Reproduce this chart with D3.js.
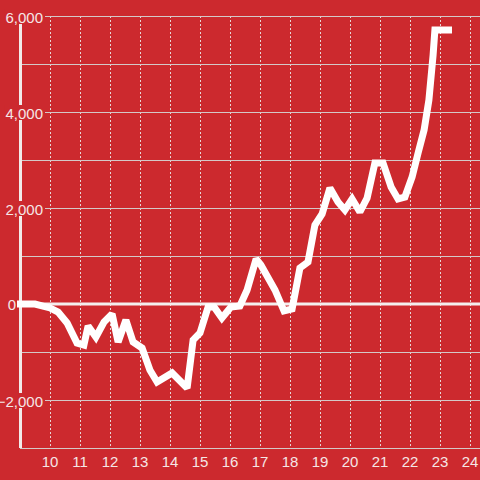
<!DOCTYPE html>
<html><head><meta charset="utf-8">
<script src="https://cdn.jsdelivr.net/npm/d3@7"></script>
<style>html,body{margin:0;padding:0;background:#cc292e;}svg{display:block;}</style>
</head><body>
<svg id="c" width="480" height="480"></svg>
<script>
const xVals = [8.9,9.5,10.0,10.27,10.57,10.9,11.13,11.27,11.53,11.8,12.07,12.27,12.53,12.77,13.07,13.33,13.57,14.07,14.57,14.77,15.0,15.27,15.47,15.73,16.03,16.33,16.57,16.87,17.03,17.5,17.8,18.07,18.33,18.6,18.83,19.07,19.33,19.6,19.83,20.07,20.33,20.57,20.83,21.1,21.37,21.6,21.83,22.07,22.27,22.47,22.63,22.77,22.83,23.4];
const yVals = [0,0,-83,-167,-396,-813,-854,-458,-688,-375,-208,-792,-333,-792,-917,-1375,-1625,-1438,-1750,-750,-604,-63,-63,-292,-63,-42,292,938,813,292,-146,-104,750,875,1646,1875,2417,2125,1958,2188,1917,2208,2938,2938,2438,2188,2229,2646,3146,3625,4250,5188,5708,5708];
const xTicks = [10,11,12,13,14,15,16,17,18,19,20,21,22,23,24];
const yGrid = [-3000,-2000,-1000,0,1000,2000,3000,4000,5000,6000];
const yLabels = [-2000,0,2000,4000,6000];

const bg = "#cc292e", txt = "#f5e6e6";
const svg = d3.select("#c");
const x = d3.scaleLinear().domain([9,24]).range([20,470]);
const y = d3.scaleLinear().domain([-3000,6000]).range([448,16]);
const fmt = d3.format(",");
const font = "'Liberation Sans', Arial, sans-serif";

svg.append("rect").attr("width",480).attr("height",480).attr("fill",bg);

// vertical dotted grid
svg.append("g").selectAll("line").data(xTicks).join("line")
  .attr("x1",d=>x(d)+0.5).attr("x2",d=>x(d)+0.5)
  .attr("y1",y(6000)).attr("y2",y(-3000))
  .attr("stroke","#e6d6d6").attr("stroke-width",1).attr("stroke-dasharray","2,2");

// horizontal grid
svg.append("g").selectAll("line").data(yGrid.filter(d=>d!==0)).join("line")
  .attr("x1",20).attr("x2",480)
  .attr("y1",d=>y(d)+0.5).attr("y2",d=>y(d)+0.5)
  .attr("stroke","#d4c8c8").attr("stroke-width",1);

// y axis line
svg.append("line").attr("x1",20.5).attr("x2",20.5).attr("y1",y(6000)).attr("y2",y(-3000))
  .attr("stroke","#f2eaea").attr("stroke-width",3);

// zero line
svg.append("line").attr("x1",17).attr("x2",480).attr("y1",y(0)).attr("y2",y(0))
  .attr("stroke","#f4eeee").attr("stroke-width",3);

// y labels with background
const yl = svg.append("g").selectAll("g").data(yLabels).join("g");
yl.each(function(d){
  const g = d3.select(this);
  const zero = d === 0;
  const t = g.append("text").attr("x", zero ? 16 : 43).attr("y",y(d)+(zero?6:6.5))
    .attr("text-anchor","end").attr("fill",txt)
    .attr("font-family",font).attr("font-size",15)
    .text(fmt(d));
  if (!zero) {
    const bb = t.node().getBBox();
    g.insert("rect","text").attr("x",bb.x-1).attr("y",y(d)-7).attr("width",46-bb.x).attr("height",15).attr("fill",bg);
  }
});

// x labels
svg.append("g").selectAll("text").data(xTicks).join("text")
  .attr("x",d=>x(d)).attr("y",467).attr("text-anchor","middle").attr("fill",txt)
  .attr("font-family",font).attr("font-size",15)
  .text(d=>d);

// line
const data = xVals.map((v,i)=>[v,yVals[i]]);
svg.append("path").datum(data)
  .attr("d",d3.line().x(d=>x(d[0])).y(d=>y(d[1])))
  .attr("fill","none").attr("stroke","#ffffff").attr("stroke-width",7)
  .attr("stroke-linejoin","miter").attr("stroke-miterlimit",2).attr("stroke-linecap","butt");
</script>
</body></html>
